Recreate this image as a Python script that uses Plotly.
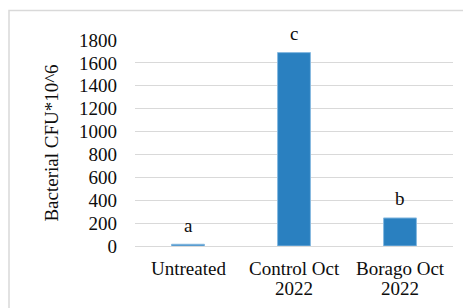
import plotly.graph_objects as go

categories = ["Untreated", "Control Oct 2022", "Borago Oct 2022"]
label_lines = [["Untreated"], ["Control Oct", "2022"], ["Borago Oct", "2022"]]
values = [15, 1690, 245]
letters = ["a", "c", "b"]
y_ticks = [0, 200, 400, 600, 800, 1000, 1200, 1400, 1600, 1800]
y_title = "Bacterial CFU*10^6"

FONT = "Liberation Serif, Times New Roman, serif"
TXT = "#0d0d0d"
OFF = 8  # default body margin of the html page
W, H = 471 - OFF, 308 - OFF
L, R, T, B = 135 - OFF, 18, 40 - OFF, 62
pw, ph = W - L - R, H - T - B

fig = go.Figure()
fig.add_trace(go.Bar(
    x=categories, y=values,
    marker=dict(color="#2a80c0", line=dict(color="#86b9e0", width=1)),
    width=0.31,
))

annotations = []
for c, v, s in zip(categories, values, letters):
    annotations.append(dict(x=c, y=v, xref="x", yref="y", text=s, showarrow=False,
                            yanchor="middle", yshift=19,
                            font=dict(family=FONT, size=19, color=TXT)))
for c, lines in zip(categories, label_lines):
    for i, ln in enumerate(lines):
        annotations.append(dict(x=c, y=0, xref="x", yref="paper", text=ln, showarrow=False,
                                yanchor="middle", yshift=-(22 + 20 * i),
                                font=dict(family=FONT, size=19, color=TXT)))

def px2x(px):
    return (px - OFF - L) / pw

def py2y(py):
    return (OFF + H - B - py) / ph

fig.update_layout(
    width=W, height=H,
    margin=dict(l=L, r=R, t=T, b=B),
    paper_bgcolor="white", plot_bgcolor="white",
    showlegend=False,
    font=dict(family=FONT, size=19, color=TXT),
    annotations=annotations,
    shapes=[dict(type="rect", xref="paper", yref="paper",
                 x0=px2x(9), y0=py2y(10.5), x1=px2x(490), y1=py2y(330),
                 line=dict(color="#d9d9d9", width=1.5), fillcolor="rgba(0,0,0,0)",
                 layer="below")],
    xaxis=dict(showticklabels=False, showgrid=False, zeroline=False, showline=False,
               ticks=""),
    yaxis=dict(range=[0, 1800], tickvals=y_ticks, showgrid=True, gridcolor="#d9d9d9",
               gridwidth=1.2, zeroline=True, zerolinecolor="#d9d9d9", zerolinewidth=1.2,
               showline=False, ticks="", ticklabelstandoff=17,
               tickfont=dict(family=FONT, size=19, color=TXT),
               title=dict(text=y_title, standoff=15,
                          font=dict(family=FONT, size=19, color=TXT))),
)

fig.write_html("out.html")
